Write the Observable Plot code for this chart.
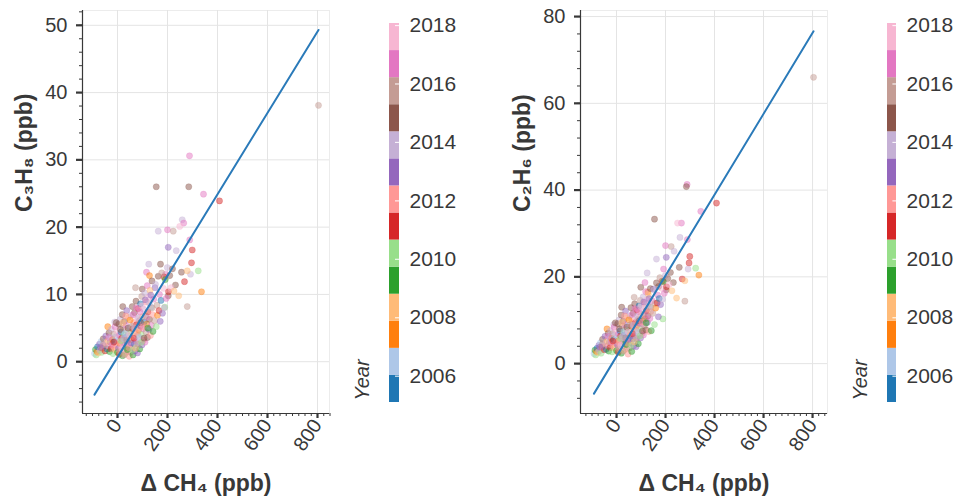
<!DOCTYPE html>
<html>
<head>
<meta charset="utf-8">
<script src="https://cdn.jsdelivr.net/npm/d3@7"></script>
<script src="https://cdn.jsdelivr.net/npm/@observablehq/plot@0.6"></script>
<style>
  body { margin: 0; background: #fff; }
  #row { display: flex; width: 961px; height: 500px; }
  #row svg { display: block; overflow: visible; }
</style>
</head>
<body>
<div id="row"></div>
<script>
// Sampling year (decimal) of each air sample
const year = [
  2016.6, 2014.8, 2015.0, 2016.9, 2011.2, 2014.0, 2016.5, 2017.5, 2016.4, 2013.9,
  2015.7, 2016.7, 2013.0, 2011.0, 2014.2, 2015.4, 2010.9, 2010.2, 2007.2, 2014.7,
  2014.1, 2011.1, 2008.3, 2015.0, 2008.5, 2015.8, 2010.0, 2016.8, 2014.9, 2014.0,
  2015.1, 2007.0, 2014.6, 2007.5, 2016.6, 2015.9, 2014.8, 2013.8, 2011.4, 2012.8,
  2006.5, 2009.0, 2009.9, 2007.3, 2005.5, 2008.0, 2012.9, 2013.7, 2006.4, 2010.4,
  2007.6, 2014.9, 2016.9, 2011.3, 2013.0, 2017.6, 2005.7,
  2008.2, 2012.0, 2014.5, 2009.2, 2016.0, 2006.6, 2011.0, 2013.9, 2017.0, 2007.1,
  2010.1, 2015.6, 2012.2, 2005.8, 2016.3, 2008.7, 2014.0, 2011.7, 2017.3, 2009.5,
  2006.2, 2013.1, 2015.1, 2010.8, 2016.7, 2007.7, 2014.3, 2012.3, 2005.4, 2017.8,
  2011.5, 2015.0, 2008.9, 2013.5, 2016.1, 2006.8, 2010.3, 2014.7, 2016.5, 2007.9,
  2012.6, 2017.0, 2009.6, 2013.2, 2005.9, 2015.4, 2011.8, 2016.9, 2008.4, 2014.1,
  2012.1, 2006.3, 2017.4,
  2010.5, 2015.9, 2013.8, 2007.4, 2016.2, 2014.6, 2011.2, 2009.3, 2017.7, 2012.4,
  2005.6, 2015.2, 2013.3, 2008.6, 2016.4, 2014.4, 2010.9, 2006.9, 2017.2, 2012.7,
  2015.7, 2011.4, 2007.2, 2014.2, 2016.0, 2009.1, 2013.0, 2005.3, 2017.9, 2010.6,
  2015.3, 2012.9, 2008.1,
  2016.6, 2014.0, 2011.9, 2006.0, 2013.6, 2017.1, 2009.8, 2015.5, 2012.5, 2007.8,
  2016.3, 2014.8, 2010.7, 2017.6, 2013.1, 2015.0, 2008.8, 2011.6, 2006.7, 2016.8,
  2014.5, 2012.0, 2009.4, 2017.0, 2015.6,
  2013.7, 2010.2, 2016.1, 2007.6, 2014.9, 2011.3, 2016.9, 2013.2, 2005.9, 2015.8,
  2012.8, 2017.4, 2014.3, 2009.0, 2016.5, 2013.9, 2011.0, 2015.1, 2017.8, 2014.6,
  2008.0,
  2012.3, 2016.2, 2014.4, 2010.6, 2017.2, 2008.1, 2013.6, 2015.5, 2006.1, 2011.9,
  2016.0, 2009.7, 2014.9, 2012.5, 2017.6, 2007.0, 2013.4, 2015.3, 2010.4, 2016.8,
  2011.1, 2014.3, 2008.5, 2017.0, 2012.2, 2015.9, 2013.7, 2006.6, 2016.4, 2014.7,
  2010.0, 2017.5, 2011.6, 2015.2, 2013.3, 2016.6, 2009.2, 2014.1, 2012.9, 2016.1,
  2015.4, 2012.7, 2016.6, 2010.8, 2014.4
];

// Methane enhancement above background, ppb
const dCH4 = [
  288, 285, 155, 344, 408, 259, 265, 249, 200, 163,
  223, 289, 203, 299, 235, 804, 296, 323, 336, 256,
  292, 268, 279, 232, 245, 279, 189, 116, 99, 125,
  172, -39, 21, 128, 192, 72, 203, -11, 186, 150,
  -92, -88, -85, -82, -80, -76, -72, -70, -66, -63,
  -60, -57, -54, -50, -47, -44, -42,
  -38, -36, -34, -32, -30, -28, -26, -24, -22, -20,
  -18, -16, -14, -12, -10, -8, -6, -4, -2, 0,
  2, 4, 5, 7, 8, 10, 11, 13, 14, 16,
  17, 19, 20, 22, 23, 25, 26, 28, 29, 31,
  32, 34, 35, 37, 38, 40, 41, 43, 44, 46,
  47, 49, 50,
  52, 53, 55, 56, 58, 59, 61, 62, 64, 65,
  67, 68, 70, 71, 73, 74, 76, 77, 79, 80,
  82, 83, 85, 86, 88, 89, 91, 92, 94, 95,
  97, 98, 100,
  102, 104, 105, 107, 109, 110, 112, 114, 115, 117,
  119, 120, 122, 124, 126, 128, 130, 132, 134, 136,
  138, 140, 142, 145, 148,
  152, 155, 158, 160, 163, 166, 168, 171, 174, 177,
  180, 184, 187, 191, 195, 199, 204, 209, 214, 220,
  226,
  6, 9, 12, 15, 18, 21, 24, 27, 30, 33,
  36, 39, 42, 45, 48, 51, 54, 57, 60, 63,
  66, 69, 72, 75, 78, 81, 84, 87, 90, 93,
  96, 99, 103, 106, 111, 116, 121, 127, 133, 139,
  -58, -68, -35, -15, -5
];

// Propane (C3H8), ppb
const propane = [
  30.6, 26.0, 26.0, 24.9, 23.9, 21.1, 20.6, 20.1, 19.6, 19.4,
  19.4, 18.1, 17.0, 16.6, 16.5, 38.1, 14.7, 13.5, 10.4, 13.3,
  13.0, 11.9, 13.5, 11.4, 9.8, 8.2, 8.1, 13.3, 10.8, 14.5,
  14.5, 5.2, 8.2, 12.8, 13.0, 11.0, 9.8, 5.9, 12.6, 11.0,
  1.2, 1.8, 1.0, 1.5, 2.2, 1.3, 2.6, 1.7, 3.0, 1.4,
  2.0, 3.4, 2.4, 1.6, 3.8, 2.8, 1.9,
  3.1, 2.3, 4.3, 1.5, 2.9, 3.6, 1.9, 4.8, 2.6, 3.3,
  1.2, 4.1, 2.1, 3.0, 5.2, 1.7, 3.7, 2.4, 4.6, 1.4,
  3.2, 2.0, 5.6, 1.1, 3.9, 2.7, 6.3, 1.6, 4.4, 2.3,
  3.5, 7.0, 0.9, 2.9, 5.0, 1.8, 4.0, 6.0, 2.5, 1.2,
  3.6, 5.4, 2.1, 7.6, 3.0, 4.5, 1.5, 2.7, 6.6, 3.8,
  0.8, 5.1, 2.3,
  4.2, 1.4, 6.9, 3.3, 2.0, 8.2, 4.9, 1.0, 3.7, 5.8,
  2.6, 7.3, 1.6, 4.4, 3.0, 9.0, 5.5, 2.2, 6.4, 1.3,
  3.9, 7.9, 4.7, 2.8, 6.1, 1.9, 5.3, 8.6, 3.4, 4.1,
  9.7, 2.5, 6.7,
  4.9, 7.8, 3.2, 5.9, 10.2, 2.9, 6.8, 4.4, 8.9, 5.6,
  11.3, 3.6, 7.4, 9.6, 4.8, 6.3, 10.6, 3.9, 8.1, 5.4,
  12.0, 7.0, 4.5, 9.3, 6.1,
  11.5, 5.2, 8.4, 6.9, 12.7, 7.6, 10.0, 6.0, 9.1, 13.2,
  7.2, 10.9, 8.0, 12.2, 9.4, 14.0, 10.4, 12.8, 11.0, 13.8,
  10.5,
  2.9, 1.5, 4.8, 3.1, 1.9, 5.8, 3.4, 1.0, 4.2, 6.8,
  3.2, 1.8, 5.0, 2.1, 4.0, 6.2, 2.8, 5.3, 1.7, 7.0,
  3.5, 5.0, 2.0, 8.0, 4.3, 2.6, 6.5, 3.6, 7.4, 5.8,
  2.9, 8.3, 5.2, 3.5, 9.2, 6.6, 5.0, 8.7, 9.9, 8.0,
  2.5, 2.1, 3.6, 2.9, 5.8
];

// Ethane (C2H6), ppb
const ethane = [
  41.3, 40.8, 33.3, 35.1, 37.0, 29.1, 32.4, 32.4, 27.2, 24.1,
  27.0, 28.6, 24.5, 24.7, 25.9, 66.0, 23.2, 22.0, 20.4, 22.2,
  21.8, 19.5, 19.1, 18.7, 15.1, 14.4, 10.3, 18.7, 17.6, 20.9,
  17.8, 8.0, 13.0, 16.5, 21.8, 15.3, 17.0, 9.0, 19.0, 17.2,
  2.3, 3.1, 2.0, 2.8, 3.5, 2.6, 4.2, 2.9, 4.8, 2.4,
  3.8, 5.6, 4.0, 3.2, 6.3, 4.6, 3.3,
  5.2, 4.1, 7.0, 2.9, 4.9, 6.1, 3.7, 7.6, 5.0, 5.8,
  2.7, 6.9, 4.4, 5.5, 8.4, 3.6, 6.6, 4.7, 7.8, 3.0,
  5.9, 4.3, 9.2, 2.6, 6.8, 5.3, 10.1, 3.8, 7.5, 4.9,
  6.4, 11.2, 2.4, 5.6, 8.7, 4.0, 7.2, 9.8, 5.1, 3.1,
  6.6, 9.0, 4.6, 12.1, 6.0, 7.9, 3.5, 5.5, 10.6, 7.0,
  2.2, 8.8, 5.0,
  7.7, 3.6, 11.0, 6.5, 4.8, 12.9, 8.6, 2.8, 7.1, 9.7,
  5.7, 11.6, 4.1, 8.1, 6.3, 13.8, 9.4, 5.2, 10.5, 3.9,
  7.6, 12.4, 8.9, 6.2, 10.2, 4.6, 9.3, 13.3, 7.3, 8.0,
  14.6, 5.9, 11.1,
  9.1, 12.6, 7.0, 10.0, 15.4, 6.6, 11.4, 8.7, 13.9, 10.3,
  16.6, 7.8, 12.2, 14.7, 9.5, 11.0, 16.0, 7.4, 13.2, 10.4,
  17.3, 12.0, 7.6, 14.5, 11.6,
  17.0, 9.0, 13.9, 12.8, 18.6, 14.0, 15.8, 10.8, 15.0, 19.8,
  13.6, 17.4, 14.8, 18.9, 16.2, 20.3, 17.7, 19.6, 18.2, 21.0,
  16.8,
  5.0, 3.4, 8.0, 5.8, 4.2, 9.5, 6.2, 2.9, 7.4, 11.0,
  5.9, 4.4, 8.4, 4.7, 7.3, 10.1, 5.6, 9.0, 4.2, 11.3,
  6.9, 8.8, 5.0, 12.7, 8.1, 5.8, 10.8, 7.2, 12.0, 9.9,
  6.4, 13.1, 9.6, 7.5, 14.2, 11.2, 9.4, 13.6, 15.0, 13.0,
  4.4, 3.8, 6.3, 5.2, 9.4
];

// Least-squares fits against ΔCH4: [slope, intercept]
const fitPropane = [0.0605, 0.67];
const fitEthane = [0.0932, 1.66];

// Colour bar: tab20 steps over the sampling period
const yearRange = [2005.1, 2018.07];
const yearTicks = [2006, 2008, 2010, 2012, 2014, 2016, 2018];
const palette = [
  "#1f77b4", "#aec7e8", "#ff7f0e", "#ffbb78", "#2ca02c", "#98df8a", "#d62728",
  "#ff9896", "#9467bd", "#c5b0d5", "#8c564b", "#c49c94", "#e377c2", "#f7b6d2"
];

const xTicks = [0, 200, 400, 600, 800];
const xMinor = d3.range(-125, 851, 25);

const FONT = "'Liberation Sans', Arial, Helvetica, sans-serif";
const INK = "#383838";

const samples = year.map((y, i) => ({year: y, dch4: dCH4[i], c3h8: propane[i], c2h6: ethane[i]}));

const step = (yearRange[1] - yearRange[0]) / palette.length;
const edges = d3.range(palette.length + 1).map(i => yearRange[0] + i * step);
const yearBreaks = edges.slice(1, -1);
const bins = palette.map((color, i) => ({lo: edges[i], hi: edges[i + 1], color}));

function scatterPanel({value, yDomain, yTicks, yMinor, fit, yLabel, width, marginLeft, marginRight, xDomain}) {
  const fitLine = d3.extent(dCH4).map(x => ({x, y: fit[0] * x + fit[1]}));
  return Plot.plot({
    width, height: 500,
    marginLeft, marginRight, marginTop: 10, marginBottom: 87,
    style: {fontFamily: FONT, fontSize: "20px", color: INK, background: "white", overflow: "visible"},
    x: {domain: xDomain},
    y: {domain: yDomain},
    color: {type: "threshold", domain: yearBreaks, range: palette},
    marks: [
      Plot.frame({stroke: "#ececec"}),
      Plot.gridX(xTicks, {stroke: "#e4e4e4", strokeOpacity: 1}),
      Plot.gridY(yTicks, {stroke: "#e4e4e4", strokeOpacity: 1}),
      Plot.dot(samples, {x: "dch4", y: value, fill: "year", stroke: "year", r: 3.1,
        fillOpacity: 0.5, strokeOpacity: 0.3, strokeWidth: 0.8}),
      Plot.line(fitLine, {x: "x", y: "y", stroke: "#2a7ab9", strokeWidth: 2}),
      Plot.axisX(xMinor, {tickSize: 3, tickFormat: () => "", label: null, strokeWidth: 1}),
      Plot.axisX(xTicks, {tickSize: 5, strokeWidth: 2.2, tickRotate: -55, tickPadding: 3,
        label: null, fontSize: 20, tickFormat: d => String(d)}),
      Plot.axisY(yMinor, {tickSize: 3, tickFormat: () => "", label: null, strokeWidth: 1}),
      Plot.axisY(yTicks, {tickSize: 6, strokeWidth: 2.2, tickPadding: 9, label: null, fontSize: 20,
        tickFormat: d => String(d)}),
      Plot.ruleX([xDomain[0]], {stroke: INK, strokeWidth: 1.2}),
      Plot.ruleY([yDomain[0]], {stroke: INK, strokeWidth: 1.2}),
      Plot.text(["Δ CH₄ (ppb)"], {frameAnchor: "bottom", dy: 77, fontWeight: "bold", fontSize: 23, fill: INK}),
      Plot.text([yLabel], {frameAnchor: "left", dx: -58, rotate: -90, fontWeight: "bold", fontSize: 23, fill: INK})
    ]
  });
}

function colorbar({width, marginLeft, barWidth}) {
  return Plot.plot({
    width, height: 500,
    marginLeft, marginRight: width - marginLeft - barWidth, marginTop: 23, marginBottom: 98,
    style: {fontFamily: FONT, fontSize: "21px", color: INK, background: "white", overflow: "visible"},
    x: {domain: [0, 1], axis: null},
    y: {domain: yearRange},
    marks: [
      Plot.rect(bins, {x1: 0, x2: 1, y1: "lo", y2: "hi", fill: "color"}),
      Plot.ruleY(yearTicks, {x1: 0.6, x2: 1, stroke: "white", strokeWidth: 1.2, strokeOpacity: 0.85}),
      Plot.axisY(yearTicks, {anchor: "right", tickSize: 0, tickPadding: 10, label: null,
        fontSize: 21, tickFormat: d => String(d)}),
      Plot.text(["Year"], {frameAnchor: "bottom-left", dx: -21, dy: -2, textAnchor: "start",
        rotate: -90, fontStyle: "italic", fontSize: 20, fill: INK})
    ]
  });
}

const row = document.getElementById("row");
row.append(
  scatterPanel({
    value: "c3h8", yDomain: [-7.7, 52.2], yTicks: [0, 10, 20, 30, 40, 50],
    yMinor: d3.range(-6, 53, 2), fit: fitPropane, yLabel: "C₃H₈ (ppb)",
    width: 340, marginLeft: 82, marginRight: 11, xDomain: [-140, 848]
  }),
  colorbar({width: 140, marginLeft: 49, barWidth: 10}),
  scatterPanel({
    value: "c2h6", yDomain: [-11.5, 81.4], yTicks: [0, 20, 40, 60, 80],
    yMinor: d3.range(-8, 81, 4), fit: fitEthane, yLabel: "C₂H₆ (ppb)",
    width: 360, marginLeft: 100, marginRight: 13, xDomain: [-147, 861]
  }),
  colorbar({width: 121, marginLeft: 47, barWidth: 9})
);
</script>
</body>
</html>
